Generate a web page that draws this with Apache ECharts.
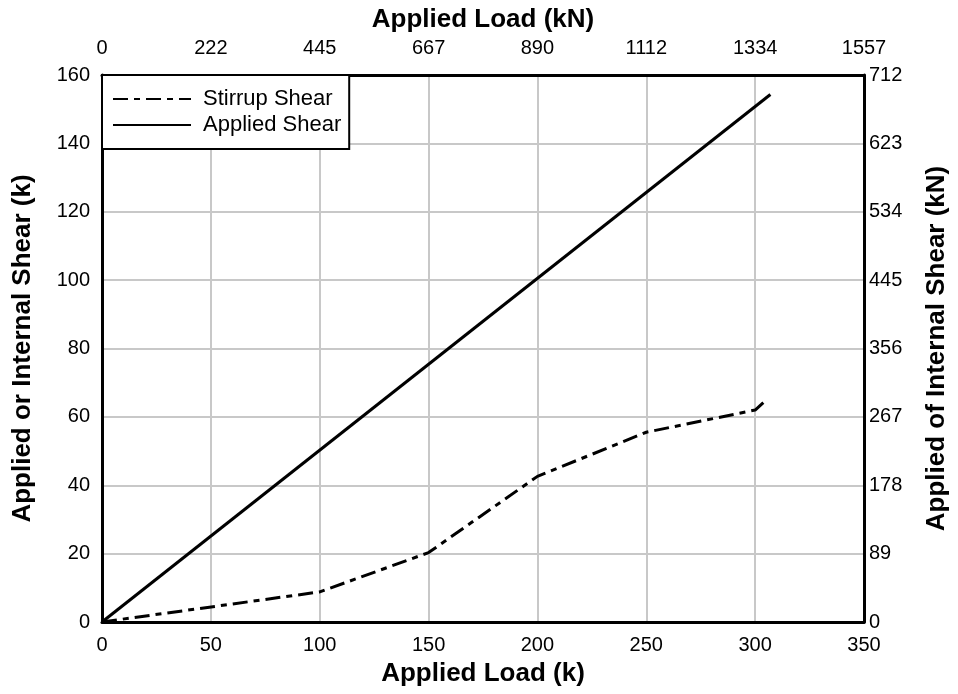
<!DOCTYPE html>
<html>
<head>
<meta charset="utf-8">
<script src="https://cdn.jsdelivr.net/npm/echarts@6/dist/echarts.min.js"></script>
<style>
  html, body { margin: 0; padding: 0; background: #fff; }
  #main { width: 958px; height: 694px; }
</style>
</head>
<body>
<div id="main"></div>
<script>
// applied load (k) vs shear (k)
var stirrupShear = [[0, 0], [100, 8.8], [150, 20.3], [200, 42.6], [250, 55.5], [300, 62], [304, 64.3]];
var appliedShear = [[0, 0], [307, 154.3]];

// secondary axis labels (SI units)
var topTicks = ['0', '222', '445', '667', '890', '1112', '1334', '1557'];
var rightTicks = ['0', '89', '178', '267', '356', '445', '534', '623', '712'];

var font = 'Liberation Sans, Arial, sans-serif';
var nameStyle = { fontFamily: font, fontSize: 26, fontWeight: 'bold', color: '#000' };
var labelStyle = { fontFamily: font, fontSize: 20, color: '#000' };
var blackLine = { show: true, onZero: false, lineStyle: { color: '#000', width: 3 } };

var myChart = echarts.init(document.getElementById('main'));
var option = {
    animation: false,
    backgroundColor: '#fff',
    grid: { left: 102, right: 91, top: 75, bottom: 72 },
    legend: {
        orient: 'vertical',
        left: 102,
        top: 75,
        backgroundColor: '#fff',
        borderColor: '#000',
        borderWidth: 2,
        padding: [13, 8, 13, 10],
        itemWidth: 78,
        itemHeight: 22,
        itemGap: 4,
        itemStyle: { opacity: 0 },
        textStyle: { fontFamily: font, fontSize: 22, color: '#000', padding: [0, 0, 0, 7] },
        data: ['Stirrup Shear', 'Applied Shear']
    },
    xAxis: [
        {
            type: 'value', position: 'bottom', min: 0, max: 350, interval: 50,
            name: 'Applied Load (k)', nameLocation: 'middle', nameGap: 39, nameTextStyle: nameStyle,
            axisLine: blackLine, axisTick: { show: false },
            axisLabel: Object.assign({ margin: 13 }, labelStyle),
            splitLine: { show: true, lineStyle: { color: '#c8c8c8', width: 2 } }
        },
        {
            type: 'value', position: 'top', min: 0, max: 350, interval: 50,
            name: 'Applied Load (kN)', nameLocation: 'middle', nameGap: 42, nameTextStyle: nameStyle,
            axisLine: blackLine, axisTick: { show: false },
            axisLabel: Object.assign({
                margin: 17,
                formatter: function (v) { return topTicks[Math.round(v / 50)]; }
            }, labelStyle),
            splitLine: { show: false }
        }
    ],
    yAxis: [
        {
            type: 'value', position: 'left', min: 0, max: 160, interval: 20,
            name: 'Applied or Internal Shear (k)', nameLocation: 'middle', nameGap: 66, nameTextStyle: nameStyle,
            axisLine: blackLine, axisTick: { show: false },
            axisLabel: Object.assign({ margin: 12 }, labelStyle),
            splitLine: { show: true, lineStyle: { color: '#c8c8c8', width: 2 } }
        },
        {
            type: 'value', position: 'right', min: 0, max: 160, interval: 20,
            name: 'Applied of Internal Shear (kN)', nameLocation: 'middle', nameGap: 60, nameRotate: 90,
            nameTextStyle: nameStyle,
            axisLine: blackLine, axisTick: { show: false },
            axisLabel: Object.assign({
                margin: 5,
                formatter: function (v) { return rightTicks[Math.round(v / 20)]; }
            }, labelStyle),
            splitLine: { show: false }
        }
    ],
    series: [
        {
            name: 'Stirrup Shear', type: 'line', data: stirrupShear,
            symbol: 'none', z: 3,
            lineStyle: { color: '#000', width: 3, type: [15, 6, 6, 6] },
            itemStyle: { color: '#000' }
        },
        {
            name: 'Applied Shear', type: 'line', data: appliedShear,
            symbol: 'none', z: 3,
            lineStyle: { color: '#000', width: 3, type: 'solid' },
            itemStyle: { color: '#000' }
        }
    ]
};
myChart.setOption(option);
</script>
</body>
</html>
